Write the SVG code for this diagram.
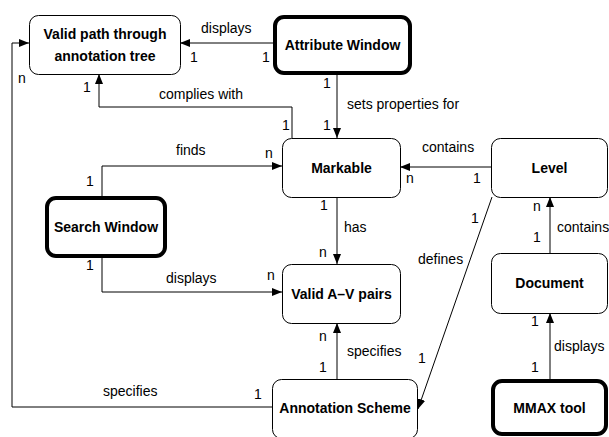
<svg xmlns="http://www.w3.org/2000/svg" width="609" height="437" viewBox="0 0 609 437">
<style>
.n{fill:#fff;stroke:#000;stroke-width:1}
.t{fill:#fff;stroke:#000;stroke-width:4}
.nl{font-family:"Liberation Sans",Arial,sans-serif;font-size:14px;font-weight:bold;text-anchor:middle;fill:#000}
.l{font-family:"Liberation Sans",Arial,sans-serif;font-size:14px;fill:#000}
.c{fill:none;stroke:#000;stroke-width:1}
</style>
<defs>
<marker id="a" markerWidth="10" markerHeight="8" refX="10" refY="4" orient="auto" markerUnits="userSpaceOnUse">
<path d="M0,0 L10,4 L0,8 z" fill="#000"/>
</marker>
</defs>
<g id="connectors">
<path class="c" d="M273,43 H180" marker-end="url(#a)"/>
<path class="c" d="M272,407 H12 V43 H29" marker-end="url(#a)"/>
<path class="c" d="M292,138 V107 H99 V74" marker-end="url(#a)"/>
<path class="c" d="M337,75 V138" marker-end="url(#a)"/>
<path class="c" d="M102,196 V166 H282" marker-end="url(#a)"/>
<path class="c" d="M102,258 V292 H282" marker-end="url(#a)"/>
<path class="c" d="M491,167 H400" marker-end="url(#a)"/>
<path class="c" d="M337,197 V264" marker-end="url(#a)"/>
<path class="c" d="M492,197 L418,409" marker-end="url(#a)"/>
<path class="c" d="M550,253 V197" marker-end="url(#a)"/>
<path class="c" d="M337,379 V323" marker-end="url(#a)"/>
<path class="c" d="M550,379 V313" marker-end="url(#a)"/>
<text class="l" x="201" y="33">displays</text>
<text class="l" x="190" y="62">1</text>
<text class="l" x="262" y="62">1</text>
<text class="l" x="18" y="83">n</text>
<text class="l" x="83" y="92">1</text>
<text class="l" x="159" y="99">complies with</text>
<text class="l" x="282" y="130">1</text>
<text class="l" x="323" y="88">1</text>
<text class="l" x="323" y="130">1</text>
<text class="l" x="347" y="109">sets properties for</text>
<text class="l" x="176" y="155">finds</text>
<text class="l" x="265" y="158">n</text>
<text class="l" x="86" y="186">1</text>
<text class="l" x="86" y="270">1</text>
<text class="l" x="166" y="283">displays</text>
<text class="l" x="267" y="280">n</text>
<text class="l" x="422" y="152">contains</text>
<text class="l" x="406" y="183">n</text>
<text class="l" x="473" y="183">1</text>
<text class="l" x="320" y="210">1</text>
<text class="l" x="344" y="232">has</text>
<text class="l" x="319" y="257">n</text>
<text class="l" x="471" y="223">1</text>
<text class="l" x="418" y="264">defines</text>
<text class="l" x="533" y="211">n</text>
<text class="l" x="557" y="232">contains</text>
<text class="l" x="533" y="242">1</text>
<text class="l" x="319" y="341">n</text>
<text class="l" x="347" y="356">specifies</text>
<text class="l" x="319" y="372">1</text>
<text class="l" x="418" y="363">1</text>
<text class="l" x="531" y="326">1</text>
<text class="l" x="554" y="351">displays</text>
<text class="l" x="531" y="372">1</text>
<text class="l" x="103" y="396">specifies</text>
<text class="l" x="254" y="399">1</text>
</g>
<g id="valid-path">
<rect class="n" x="29.5" y="15.5" width="151" height="59" rx="9"/>
<text class="nl" x="105" y="39">Valid path through</text>
<text class="nl" x="105" y="61">annotation tree</text>
</g>
<g id="attribute-window">
<rect class="t" x="275" y="17" width="135" height="56" rx="9"/>
<text class="nl" x="342.5" y="50">Attribute Window</text>
</g>
<g id="markable">
<rect class="n" x="282.5" y="138.5" width="118" height="59" rx="9"/>
<text class="nl" x="341.5" y="173">Markable</text>
</g>
<g id="level">
<rect class="n" x="491.5" y="138.5" width="116" height="59" rx="9"/>
<text class="nl" x="549.5" y="173">Level</text>
</g>
<g id="search-window">
<rect class="t" x="47" y="198" width="118" height="58" rx="9"/>
<text class="nl" x="106" y="232">Search Window</text>
</g>
<g id="valid-av">
<rect class="n" x="282.5" y="264.5" width="118" height="59" rx="9"/>
<text class="nl" x="341.5" y="299">Valid A–V pairs</text>
</g>
<g id="document">
<rect class="n" x="491.5" y="253.5" width="116" height="60" rx="9"/>
<text class="nl" x="549.5" y="288">Document</text>
</g>
<g id="annotation-scheme">
<rect class="n" x="272.5" y="379.5" width="145" height="59" rx="9"/>
<text class="nl" x="345" y="413">Annotation Scheme</text>
</g>
<g id="mmax-tool">
<rect class="t" x="493" y="381" width="113" height="53" rx="9"/>
<text class="nl" x="549.5" y="413">MMAX tool</text>
</g>
</svg>
